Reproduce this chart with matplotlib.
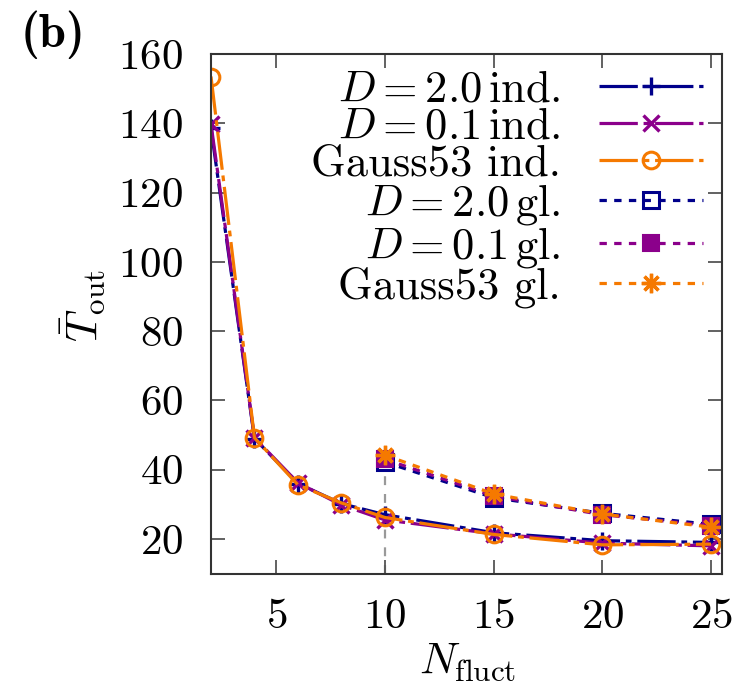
import matplotlib
matplotlib.use("Agg")
import matplotlib.pyplot as plt

plt.rcParams["font.family"] = ["cmr10"]
plt.rcParams["mathtext.fontset"] = "cm"
plt.rcParams["axes.unicode_minus"] = False
plt.rcParams["axes.formatter.use_mathtext"] = True

# mean outflow time vs number of fluctuating modes
n_ind = [2, 4, 6, 8, 10, 15, 20, 25]
t_d20_ind = [138.5, 49.0, 36.0, 30.2, 27.0, 21.8, 19.5, 19.0]
t_d01_ind = [139.8, 49.2, 36.2, 29.8, 25.5, 21.5, 18.8, 18.0]
t_gauss_ind = [153.5, 49.2, 35.6, 30.4, 26.2, 21.3, 18.3, 18.5]

n_gl = [10, 15, 20, 25]
t_d20_gl = [42.2, 31.9, 27.4, 24.2]
t_d01_gl = [43.0, 32.4, 27.0, 23.8]
t_gauss_gl = [44.2, 33.0, 27.2, 23.4]

labels = [
    r"$D = 2.0\,\mathrm{ind.}$",
    r"$D = 0.1\,\mathrm{ind.}$",
    "Gauss53 ind.",
    r"$D = 2.0\,\mathrm{gl.}$",
    r"$D = 0.1\,\mathrm{gl.}$",
    "Gauss53 gl.",
]
x_ticks = [5, 10, 15, 20, 25]
y_ticks = [20, 40, 60, 80, 100, 120, 140, 160]

BLUE = "#00008b"
PURPLE = "#8b008b"
ORANGE = "#f57900"

W, H = 739, 686
fig = plt.figure(figsize=(W / 100, H / 100), dpi=100)
ax = fig.add_axes([211 / W, 1 - 573.6 / H, (722 - 211) / W, (573.6 - 54) / H])

lw = 2.3
ind_dash = (12, 1.8, 1.8, 1.8)
gl_dash = (2.3, 2.3)

ax.plot([10, 10], [10, 41], color="#999999", lw=1.6, dashes=(4, 4), zorder=1)

ax.plot(n_ind, t_d20_ind, color=BLUE, lw=lw, dashes=ind_dash, marker="+",
        ms=13, mew=2.4, label=labels[0])
ax.plot(n_ind, t_d01_ind, color=PURPLE, lw=lw, dashes=ind_dash, marker="x",
        ms=11, mew=2.4, label=labels[1])
ax.plot(n_ind, t_gauss_ind, color=ORANGE, lw=lw, dashes=ind_dash, marker="o",
        ms=12, mew=2.2, mfc="none", label=labels[2])
ax.plot(n_gl, t_d20_gl, color=BLUE, lw=lw, dashes=gl_dash, marker="s",
        ms=11.5, mew=2.2, mfc="none", label=labels[3])
ax.plot(n_gl, t_d01_gl, color=PURPLE, lw=lw, dashes=gl_dash, marker="s",
        ms=11.5, mew=1.5, label=labels[4])
ax.plot(n_gl, t_gauss_gl, color=ORANGE, lw=lw, dashes=gl_dash, marker=(8, 2, 0),
        ms=14, mew=2.4, label=labels[5])

ax.set_xlim(2, 25.5)
ax.set_ylim(10, 160)
ax.set_xticks(x_ticks)
ax.set_yticks(y_ticks)
ax.tick_params(direction="in", length=10, width=1.3, color="#555555",
               labelsize=31, top=True, right=True)
ax.tick_params(axis="x", pad=18)
ax.tick_params(axis="y", pad=20)
for sp in ax.spines.values():
    sp.set_color("#333333")
    sp.set_linewidth(1.5)

leg = ax.legend(loc="upper right", bbox_to_anchor=(703 / W, 1 - 70 / H),
                bbox_transform=fig.transFigure, frameon=False, fontsize=32,
                markerfirst=False, numpoints=1, handlelength=2.35,
                handletextpad=0.85, labelspacing=-0.06, borderpad=0,
                borderaxespad=0)

fig.text(53 / W, 1 - 35 / H, "(b)", family="cmb10", fontsize=35,
         ha="center", va="center")
fig.text(83 / W, 1 - 305 / H, r"$\bar{T}_{\mathrm{out}}$", fontsize=32,
         rotation=90, ha="center", va="center")
fig.text(468 / W, 1 - 662 / H, r"$N_{\mathrm{fluct}}$", fontsize=32,
         ha="center", va="center")

fig.savefig("out.png", dpi=100)
